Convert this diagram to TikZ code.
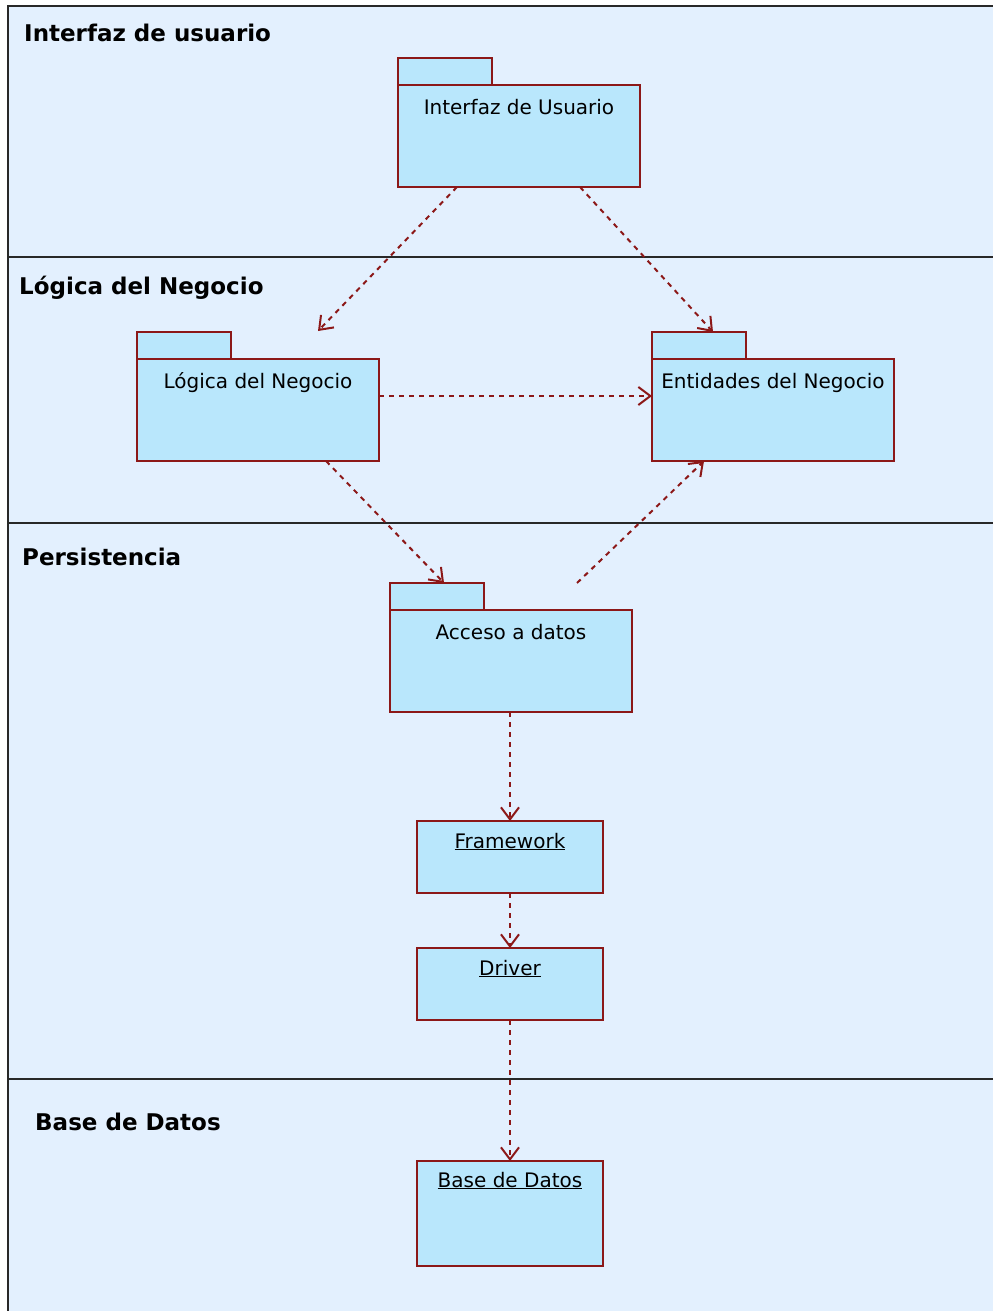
\documentclass[tikz,border=0pt]{standalone}
\usepackage{fontspec}
\setmainfont{DejaVu Sans}
\usetikzlibrary{arrows.meta}
\definecolor{bandbg}{RGB}{227,240,254}
\definecolor{pkgfill}{RGB}{185,231,252}
\definecolor{pkgline}{RGB}{140,24,24}
\definecolor{bandline}{RGB}{40,40,40}
\tikzset{
  bandrule/.style={draw=bandline, line width=2pt},
  bandtitle/.style={inner sep=0pt, anchor=base west, font=\bfseries\fontsize{23}{28}\selectfont},
  pkgbody/.style={draw=pkgline, fill=pkgfill, line width=2pt, inner sep=0pt, outer sep=0pt, anchor=north west, minimum width=242pt, minimum height=102pt},
  pkgtab/.style={draw=pkgline, fill=pkgfill, line width=2pt, inner sep=0pt, outer sep=0pt, anchor=south west, minimum width=94pt, minimum height=27pt},
  objbox/.style={draw=pkgline, fill=pkgfill, line width=2pt, inner sep=0pt, outer sep=0pt, anchor=north west, minimum width=186pt},
  pkgtext/.style={inner sep=0pt, anchor=base, font=\fontsize{20}{24}\selectfont},
  dep/.style={draw=pkgline, line width=2pt, dash pattern=on 5pt off 5pt, -{Straight Barb[length=12pt,width=18pt,line width=2pt]}}
}
\begin{document}
\begin{tikzpicture}[x=1pt,y=-1pt]
\useasboundingbox (0,0) rectangle (993,1311);
\fill[bandbg] (8,6) rectangle (993,1311);
\draw[bandrule] (8,1311) -- (8,6) -- (993,6);
\draw[bandrule] (8,257) -- (993,257);
\draw[bandrule] (8,523) -- (993,523);
\draw[bandrule] (8,1079) -- (993,1079);

\node[bandtitle] (t1) at (24,42) {Interfaz de usuario};
\node[bandtitle] (t2) at (19,294) {Lógica del Negocio};
\node[bandtitle] (t3) at (22,565) {Persistencia};
\node[bandtitle] (t4) at (35,1130) {Base de Datos};

% packages
\node[pkgbody] (ui) at (398,85) {};
\node[pkgtab] (uitab) at (ui.north west) {};
\node[pkgtext] (uilbl) at ([yshift=-29pt]ui.north) {Interfaz de Usuario};

\node[pkgbody] (ln) at (137,359) {};
\node[pkgtab] (lntab) at (ln.north west) {};
\node[pkgtext] (lnlbl) at ([yshift=-29pt]ln.north) {Lógica del Negocio};

\node[pkgbody] (ent) at (652,359) {};
\node[pkgtab] (enttab) at (ent.north west) {};
\node[pkgtext] (entlbl) at ([yshift=-29pt]ent.north) {Entidades del Negocio};

\node[pkgbody] (acc) at (390,610) {};
\node[pkgtab] (acctab) at (acc.north west) {};
\node[pkgtext] (acclbl) at ([yshift=-29pt]acc.north) {Acceso a datos};

% objects
\node[objbox, minimum height=72pt] (fw) at (417,821) {};
\node[pkgtext] (fwlbl) at ([yshift=-27pt]fw.north) {\underline{Framework}};
\node[objbox, minimum height=72pt] (drv) at (417,948) {};
\node[pkgtext] (drvlbl) at ([yshift=-27pt]drv.north) {\underline{Driver}};
\node[objbox, minimum height=105pt] (bd) at (417,1161) {};
\node[pkgtext] (bdlbl) at ([yshift=-26pt]bd.north) {\underline{Base de Datos}};

% free ends
\coordinate (lnin) at (318,331);
\coordinate (accout) at (577,583);

% dependencies
\draw[dep] ([xshift=59pt]ui.south west) -- (lnin);
\draw[dep] ([xshift=-60pt]ui.south east) -- ([xshift=14pt]enttab.north);
\draw[dep] ([yshift=14pt]ln.east) -- ([yshift=14pt]ent.west);
\draw[dep] ([xshift=68pt]ln.south) -- ([xshift=7pt]acctab.north);
\draw[dep] (accout) -- ([xshift=-69pt]ent.south);
\draw[dep] (fw.north |- acc.south) -- (fw.north);
\draw[dep] (fw.south) -- (drv.north);
\draw[dep] (drv.south) -- (bd.north);
\end{tikzpicture}
\end{document}
